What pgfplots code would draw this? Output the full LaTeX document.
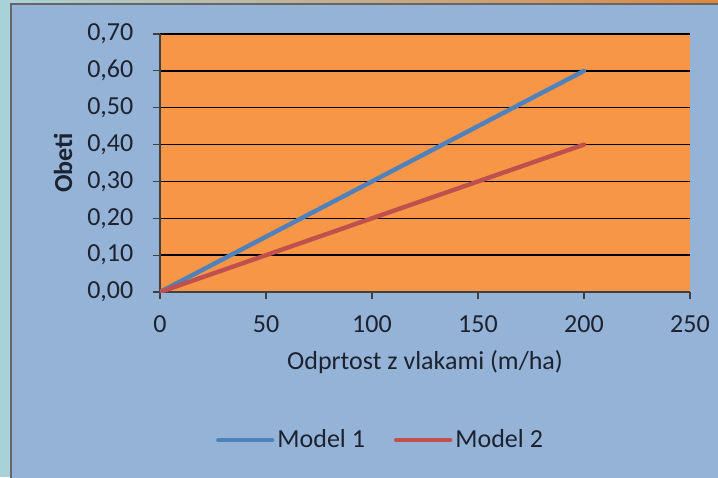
\documentclass[border=0pt]{standalone}
\usepackage{pgfplots}
\pgfplotsset{compat=1.18}
\usepackage{fontspec}
\setmainfont{Carlito}
\definecolor{bgblue}{HTML}{95B3D7}
\definecolor{plotorange}{HTML}{F79646}
\definecolor{lblue}{HTML}{4F81BD}
\definecolor{lred}{HTML}{C0504D}
\definecolor{tealbg}{HTML}{A9D2D8}
\definecolor{txt}{HTML}{1C2330}
\begin{document}
\begin{tikzpicture}[x=1pt,y=1pt]
\useasboundingbox (-80,-92.5) rectangle (279,146);
\fill[tealbg] (-80,-92.5) rectangle (279,146);
\shade[left color=tealbg, right color=plotorange!90!black] (-80,144) rectangle (279,146);
\fill[bgblue, draw=gray!80!black, line width=0.6pt] (-74.5,-96) rectangle (282,144);
\begin{axis}[
  at={(0,0)}, anchor=south west,
  scale only axis, width=265pt, height=129pt,
  xmin=0, xmax=250, ymin=0, ymax=0.7,
  xtick={0,50,100,150,200,250},
  ytick={0,0.1,0.2,0.3,0.4,0.5,0.6,0.7},
  axis x line*=bottom, axis y line*=left,
  axis line style={draw=black!75, line width=0.6pt},
  tick style={draw=black!75, line width=0.6pt},
  tick align=outside, major tick length=3.5pt,
  ymajorgrids, grid style={draw=black, line width=0.7pt},
  axis background/.style={fill=plotorange},
  /pgf/number format/assume math mode=true,
  yticklabel style={/pgf/number format/fixed, /pgf/number format/fixed zerofill, /pgf/number format/precision=2, /pgf/number format/use comma, xshift=-6.3pt},
  xticklabel style={/pgf/number format/fixed, yshift=-5pt},
  tick label style={font=\fontsize{13}{15}\selectfont, text=txt},
  xlabel={Odprtost z vlakami (m/ha)},
  ylabel={\bfseries Obeti},
  label style={font=\fontsize{13}{15}\selectfont, text=txt},
  xlabel style={at={(axis description cs:0.5,-0.271)}, anchor=center},
  ylabel style={at={(axis description cs:-0.183,0.5)}, anchor=center},
  legend style={at={(axis description cs:0.417,-0.574)}, anchor=center, draw=none, fill=none,
    legend columns=2, font=\fontsize{13}{15}\selectfont, text=txt,
    nodes={inner sep=1.5pt},
    /tikz/every even column/.append style={column sep=13pt}},
  legend cell align=left,
  legend image code/.code={\draw[#1, line cap=round] (0pt,0pt) -- (27pt,0pt);},
  clip=true,
]
\addplot[lblue, line width=2.2pt, line cap=round] coordinates {(0,0) (50,0.15) (100,0.30) (150,0.45) (200,0.60)};
\addlegendentry{Model 1}
\addplot[lred, line width=2.2pt, line cap=round] coordinates {(0,0) (50,0.10) (100,0.20) (150,0.30) (200,0.40)};
\addlegendentry{Model 2}
\end{axis}
\end{tikzpicture}
\end{document}
